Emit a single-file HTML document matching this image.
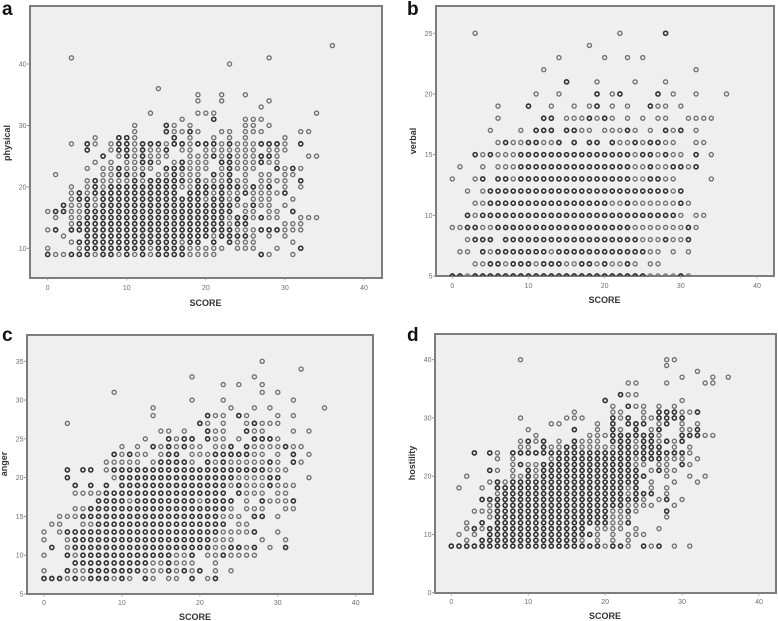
<!DOCTYPE html>
<html>
<head>
<meta charset="utf-8">
<style>
html,body{margin:0;padding:0;background:#fff;width:778px;height:621px;overflow:hidden}
svg{display:block}
text{font-family:"Liberation Sans",sans-serif}
.ttl{font-size:9px;font-weight:bold;fill:#333}
.ttl{text-anchor:middle}
.ltr{font-size:19px;font-weight:bold;fill:#111}
.frame{fill:#efefef;stroke:#7d7d7d;stroke-width:2}
.tick{font-size:7px;fill:#6e6e6e}
</style>
</head>
<body>
<svg id="fig" width="778" height="621" viewBox="0 0 778 621" xmlns="http://www.w3.org/2000/svg">
<defs>
<filter id="soft" x="-2%" y="-2%" width="104%" height="104%"><feGaussianBlur stdDeviation="0.35"/></filter>
<clipPath id="clip-a"><rect x="30" y="6" width="352" height="272"/></clipPath>
<clipPath id="clip-b"><rect x="436" y="6" width="338" height="270"/></clipPath>
<clipPath id="clip-c"><rect x="27" y="335" width="346" height="259"/></clipPath>
<clipPath id="clip-d"><rect x="435" y="334" width="341" height="259"/></clipPath>
</defs>
<g id="panel-a">
<rect class="frame" x="30" y="6" width="352" height="272"/>
<text class="ltr" x="2" y="15">a</text>
<text class="ttl" x="205.5" y="306">SCORE</text>
<text class="ttl" transform="translate(10,143) rotate(-90)">physical</text>
</g>
<g id="panel-b">
<rect class="frame" x="436" y="6" width="338" height="270"/>
<text class="ltr" x="407" y="15">b</text>
<text class="ttl" x="604.5" y="303">SCORE</text>
<text class="ttl" transform="translate(416,141) rotate(-90)">verbal</text>
</g>
<g id="panel-c">
<rect class="frame" x="27" y="335" width="346" height="259"/>
<text class="ltr" x="2" y="341">c</text>
<text class="ttl" x="195" y="620">SCORE</text>
<text class="ttl" transform="translate(7,464) rotate(-90)">anger</text>
</g>
<g id="panel-d">
<rect class="frame" x="435" y="334" width="341" height="259"/>
<text class="ltr" x="407" y="341">d</text>
<text class="ttl" x="605" y="619">SCORE</text>
<text class="ttl" transform="translate(415,463) rotate(-90)">hostility</text>
</g>
</svg>
<script>
const xTickLabels = [0,10,20,30,40];
const aYTicks = [10,20,30,40];
const bYTicks = [5,10,15,20,25];
const cYTicks = [5,10,15,20,25,30,35];
const dYTicks = [0,10,20,30,40];

const aY = [43,41,40,36,35,34,33,32,31,30,29,28,27,26,25,24,23,22,21,20,19,18,17,16,15,14,13,12,11,10,9];
const aX = [
[36],[3,28],[23],[14],[19,22,25],[19,22,28],[27],[13,19,20,21,34],[17,21,25,26,27],
[11,15,16,18,25,26,28],
[11,15,16,17,18,19,22,23,25,26,27,32,33],
[6,9,10,11,16,18,21,23,25,30],
[3,5,6,8,9,10,11,12,13,14,15,16,17,18,19,20,21,22,23,24,25,26,27,28,29,30,32],
[5,8,9,10,11,12,13,14,15,17,18,20,21,22,23,24,25,26,28,29,30],
[7,9,10,11,12,13,14,15,18,19,20,21,22,23,24,25,26,27,28,29,33,34],
[6,8,10,11,12,13,14,16,17,18,19,20,22,23,24,25,26,27,28,29],
[5,7,8,9,10,11,12,13,15,16,17,18,19,20,22,23,24,25,26,29,30,31,32],
[1,7,8,9,10,11,12,14,15,16,17,18,19,21,22,23,25,27,28,30,31],
[5,6,7,8,9,10,11,12,13,14,15,16,17,18,19,20,21,22,23,24,25,27,28,29,30,32],
[3,5,6,7,8,9,10,11,12,13,14,15,16,17,18,19,20,21,22,23,24,25,26,27,28,30,32],
[3,4,5,6,7,8,9,10,11,12,13,14,15,16,18,19,20,21,22,23,24,25,26,27,28,29,30],
[3,4,5,6,7,8,9,10,11,12,13,14,15,16,17,18,19,20,21,22,23,24,26,27,28,31],
[2,3,4,5,6,7,8,9,10,11,12,13,14,15,16,17,18,19,20,21,22,23,24,25,26,27,28,30],
[0,1,2,3,4,5,6,7,8,9,10,11,12,13,14,15,16,17,18,19,20,21,22,23,25,26,28,29,31],
[1,3,4,5,6,7,8,9,10,11,12,13,14,15,16,17,18,19,20,21,22,23,24,25,26,27,28,29,32,33,34],
[3,4,5,6,7,8,9,10,11,12,13,14,15,16,17,18,19,20,21,22,23,24,25,30,31,32],
[0,1,3,4,5,6,7,8,9,10,11,12,13,14,15,16,17,18,19,20,21,22,23,24,25,26,27,28,29,30,31,32],
[2,5,6,7,8,9,10,11,12,13,14,15,16,17,18,19,20,21,22,23,24,25,26,28,30],
[3,4,5,6,7,8,9,10,11,12,13,14,15,16,17,18,19,21,23,24,25,26,31],
[0,4,5,6,7,8,9,10,11,12,13,14,15,16,17,18,19,20,21,22,24,25,26,29,32],
[0,1,2,3,4,5,6,7,8,9,10,11,12,13,14,15,16,17,18,19,20,21,27,28,31]
];
const aDense = [
[],[],[],[],[],[],[],[],[21],[15],[15,18],[9,10,16],
[5,9,10,12,13,14,16,17,19,20,21,23,27,28,29,32],
[5,9,10,12,15],[7,10,12,21,23,27,28],[12,13,17,22,23,27],[9,15,16,17,23,29,31],[9,10,12,16,21,23],
[6,11,13,14,15,16,17,19,23,32],
[6,8,9,10,11,12,13,14,15,16,19,20,21,22,23,24,26,28],
[4,6,7,8,9,10,11,12,13,14,15,16,18,19,20,22,25,30],
[4,5,7,8,9,10,11,12,13,14,15,16,17,18,19,21,22,24],
[2,5,7,8,9,10,11,12,13,14,15,16,17,18,19,20,21,22,23,26],
[1,2,5,6,7,8,9,10,11,12,13,14,15,16,17,18,19,20,21,22,23,31],
[5,6,7,8,9,10,11,12,13,14,15,16,17,18,19,20,21,22,24,25,27],
[4,5,6,7,8,9,10,11,12,13,14,15,16,17,18,19,20,21,22,24,25],
[1,3,4,5,6,7,8,9,10,11,12,13,14,15,16,17,18,19,20,21,22,23,27,28,29],
[5,6,7,8,9,10,11,12,13,14,15,16,17,18,19,20,22,23,24,25],
[4,5,6,7,8,9,10,11,12,13,14,15,16,18,19,21,23],
[5,6,7,8,9,10,11,12,14,15,16,17,32],
[0,3,4,5,7,8,10,12,14,15,16,17,27]
];

const bY = [25,24,23,22,21,20,19,18,17,16,15,14,13,12,11,10,9,8,7,6,5];
const bX = [
[3,22,28],[18],[14,20,23,25],[12,32],[15,19,24,28],
[11,14,19,21,22,27,29,32,36],
[6,10,13,16,18,19,21,23,26,27,28,30],
[6,12,13,15,16,17,18,19,20,21,23,25,27,28,31,32,33,34],
[5,9,11,12,13,15,16,17,18,20,21,22,23,24,26,28,29,30,32],
[6,7,8,9,10,11,12,13,14,16,18,19,21,22,23,24,25,26,27,28,29,32,33],
[3,4,5,6,7,8,9,10,11,12,13,14,15,16,17,18,19,20,21,22,23,24,25,26,27,28,29,30,32,34],
[1,4,6,7,8,9,10,11,12,13,14,15,16,17,18,19,20,21,22,23,24,25,26,27,28,29,30,31,32],
[0,3,4,6,7,8,9,10,11,12,13,14,15,16,17,18,19,20,21,22,23,24,25,26,27,28,29,34],
[2,4,5,6,7,8,9,10,11,12,13,14,15,16,17,18,19,20,21,22,23,24,25,26,27,28,29,30],
[3,4,5,6,7,8,9,10,11,12,13,14,15,16,17,18,19,20,21,22,23,24,25,26,27,28,29,30,31],
[2,3,4,5,6,7,8,9,10,11,12,13,14,15,16,17,18,19,20,21,22,23,24,25,26,27,28,29,30,32,33],
[0,1,2,3,4,5,6,7,8,9,10,11,12,13,14,15,16,17,18,19,20,21,22,23,24,25,26,27,28,29,30,31,32],
[2,3,4,5,7,8,9,10,11,12,13,14,15,16,17,18,19,20,21,22,23,24,25,26,27,28,29,30,31],
[1,2,4,5,6,7,8,9,10,11,12,13,14,15,16,17,18,19,20,21,22,23,24,25,26,27,29,31],
[3,4,5,6,7,8,9,10,11,12,13,14,15,16,17,18,19,20,21,22,23,24,26,27],
[0,1,2,3,4,5,6,7,8,9,10,11,12,13,14,15,16,17,18,19,20,21,22,23,24,25,26,27,28,29,30,31]
];
const bDense = [
[28],[],[],[],[15],[19,22,27],[10,19,26],[12,13,18,20],[11,12,13,15,16,23,28,30],
[7,10,11,14,16,18,19,21,24,26,27],
[3,5,9,10,11,12,13,14,15,16,17,18,19,20,21,22,23,25,26,28,32],
[9,10,11,12,13,14,15,16,17,18,19,20,21,22,23,26,29,30,32],
[4,6,7,9,10,11,12,13,14,15,16,17,18,19,20,21,22,23,26,27],
[5,6,7,8,9,10,11,12,13,14,15,16,17,18,19,20,21,22,23,24,25,26,27,28,30],
[5,6,7,8,9,10,11,12,13,14,15,16,17,18,19,20,23,30],
[2,4,5,6,7,8,9,10,11,12,13,14,15,16,17,18,19,20,21,22,23,24,25,26,27,28,29],
[2,3,6,7,8,9,10,11,12,13,14,15,16,17,18,19,20,21,22,23,31],
[3,4,5,7,8,9,10,11,12,13,14,15,16,17,18,19,20,21,22,23,24,28,31],
[4,6,7,8,9,10,11,12,14,15,16,17,18,19,20,21,22,23,24,25],
[5,6,8,9,10,12,13,14,17,18,20,23],
[0,1,3,4,5,6,7,8,9,10,11,12,13,14,15,16,17,18,19,20,21,22,23,24,25,30]
];

const cY = [35,34,33,32,31,30,29,28,27,26,25,24,23,22,21,20,19,18,17,16,15,14,13,12,11,10,9,8,7];
const cX = [
[28],[33],[19,27],[23,25,28],[9,28,30],[19,23,32],[14,24,27,29,36],[14,21,22,23,25,26,30,32],
[3,20,21,23,26,27,28,29,30],
[15,16,18,21,22,23,26,27,28,32,34],
[13,16,17,18,19,21,22,23,25,27,28,29,30],
[10,12,14,15,16,17,18,19,20,22,23,24,26,27,28,29,30,31,32,33],
[9,10,11,12,13,15,16,17,19,20,21,22,23,24,25,26,27,28,30,32,34],
[8,9,10,11,12,14,15,16,17,18,19,21,22,23,24,25,26,27,28,29,30,32,33],
[3,5,6,8,9,10,11,12,13,14,15,16,17,18,19,20,21,22,23,24,25,26,27,28,29,30,31],
[3,9,10,11,12,13,14,15,16,17,18,19,20,21,22,23,24,25,26,27,28,29,30,34],
[4,6,8,10,11,12,13,14,15,16,17,18,19,20,21,22,23,24,25,26,27,28,29,30,31,32],
[4,5,6,7,8,9,10,11,12,13,14,15,16,17,18,19,20,21,22,23,25,26,27,28,30,31],
[7,8,9,10,11,12,13,14,15,16,17,18,19,20,21,22,23,24,26,28,29,30,31,32],
[4,5,6,7,8,9,10,11,12,13,14,15,16,17,18,19,20,21,22,23,24,26,27,28,31,32],
[2,3,4,5,6,7,8,9,10,11,12,13,14,15,16,17,18,19,20,21,22,23,24,25,27,28,30],
[1,2,5,6,7,8,9,10,11,12,13,14,15,16,17,18,19,20,21,22,23,25,26],
[0,2,3,4,5,6,7,8,9,10,11,12,13,14,15,16,17,18,19,20,21,22,23,24,25,26,27,30],
[0,3,4,5,6,7,8,9,10,11,12,13,14,15,16,17,18,19,20,21,22,23,24,28,31],
[1,3,4,5,6,7,8,9,10,11,12,13,14,15,16,17,18,19,20,21,22,23,24,25,26,27,29,31],
[0,3,4,5,6,7,8,9,10,11,12,13,14,15,16,17,18,19,21,22,23,24,25,26,27],
[4,5,6,7,8,9,10,11,12,13,14,15,16,17,18,19,22],
[0,3,4,5,6,7,8,9,10,11,12,13,14,15,16,17,18,19,20,22,24],
[0,1,2,3,4,5,6,7,8,9,10,11,13,14,16,17,19,21,22]
];
const cDense = [
[],[],[],[],[],[],[],[21,25],[20,27],[21,26],[16,18,19,21,27,28,29],
[14,16,18,24,26,31],[9,11,16,17,22,23,24,25,26,32],[15,16,17,18,21,23,29,32],
[3,5,6,9,10,11,12,13,14,15,16,17,18,19,20,21,22,23,24,25,26,27,28],
[3,10,11,12,13,14,15,16,17,18,19,20,21,22,23,24,29,30],
[4,6,8,10,11,12,13,14,15,16,17,18,19,20,21,22,23,25,29],
[8,9,10,11,12,13,14,15,16,17,18,19,20,21,22,23,25],
[7,8,9,10,12,13,14,15,16,17,18,19,21,22,23,24,28,32],
[6,7,8,9,10,11,12,13,14,15,16,17,18,19,20,21,22,23],
[5,6,7,8,9,10,11,12,13,14,15,16,17,18,19,20,21,22,27,28],
[7,8,9,10,11,12,13,14,15,16,17,18,19,20,21,22,23],
[3,4,5,6,7,8,9,10,11,12,13,14,15,16,17,18,19,20,21,22,27],
[4,5,6,7,8,9,10,11,12,13,14,15,16,17,18,19,20,21],
[1,4,5,6,7,8,9,10,11,12,13,14,15,16,17,18,19,20,21,24,25,27,31],
[3,5,6,7,8,9,10,11,12,13,14,15,16,19,23],
[4,5,6,7,8,9,10,11,12,13,16],
[3,6,7,8,9,10,11,12,16,18,20],
[0,1,2,4,6,7,8,10,13,19,22]
];

const dY = [40,39,38,37,36,34,33,32,31,30,29,28,27,26,25,24,23,22,21,20,19,18,17,16,15,14,13,12,11,10,9,8];
const dX = [
[9,28,29],[28],[32],[30,34,36],[23,24,28,33,34],[22,23,24],[20,30],[21,23,24,25,27,29],
[16,21,22,25,27,28,29,30,31,32],
[9,15,16,17,21,22,23,25,26,27,28,29,30],
[13,14,19,21,23,24,25,27,28,30,32],
[10,16,19,21,22,24,26,27,30,31,32],
[11,18,19,20,21,22,23,24,25,26,27,30,31,32,33,34],
[9,10,11,12,14,16,17,18,19,21,22,23,24,25,26,27,28,29,30],
[9,10,12,13,14,15,16,17,18,19,20,21,22,23,24,25,26,27,29,31],
[3,5,6,8,9,10,11,12,13,14,15,16,17,18,19,20,21,22,23,24,25,26,27,28,29,30,31],
[6,8,13,14,15,16,17,18,19,20,21,22,23,24,25,26,27,28,29,30,32],
[8,9,10,11,12,13,14,15,16,17,18,19,20,21,22,23,24,25,27,28,30,31],
[5,6,8,10,11,12,13,14,15,16,17,18,19,20,21,22,23,24,26,27,28,29],
[2,8,9,10,11,12,13,14,15,16,17,18,19,20,21,22,23,24,25,28,31,33],
[5,6,7,8,9,10,11,12,13,14,15,16,17,18,19,20,21,22,23,24,26,29,32],
[1,4,6,7,8,9,10,11,12,13,14,15,16,17,18,19,20,21,22,23,24,26,28],
[6,7,8,9,10,11,12,13,14,15,16,17,18,19,20,21,22,23,24,25,26,28],
[4,5,6,7,8,9,10,11,12,13,14,15,16,17,18,19,20,21,22,23,24,25,27,28,30],
[5,6,7,8,9,10,11,12,13,14,15,16,17,18,19,20,21,22,23,24,25,26,29],
[3,4,5,6,7,8,9,10,11,12,13,14,15,16,17,18,19,20,21,22,23,24,28],
[5,6,7,8,9,10,11,12,13,14,15,16,17,18,19,20,21,22,23,28],
[2,4,6,7,8,9,10,11,12,13,14,15,16,17,18,19,20,21,22,23],
[2,3,4,5,6,7,8,9,10,11,12,13,14,15,16,17,19,20,21,22,24,27],
[1,3,5,6,7,8,9,10,11,12,13,14,15,16,17,18,19,21,23,24,25],
[2,4,5,6,7,8,9,10,11,12,13,14,15,16,17,19,21,23],
[0,1,2,3,4,5,6,7,8,9,10,11,12,13,14,15,16,17,18,19,20,21,22,23,25,26,27,29,31]
];
const dDense = [
[],[],[],[],[],[22],[20],[23],[27,28,29,32],[21,23,27,28,29,30],[21,23,24,25,28],[16,21,24,27,32],
[21,22,23,24,25,26,30,31,32],[10,12,16,21,22,23,25,26,28,30],[12,15,16,22,23,25,26,27],
[3,5,8,9,10,11,12,13,14,15,16,17,18,19,20,21,22,23,24,25,26,27,28,29,30],
[14,15,16,17,18,19,20,21,22,23,25,26,27],
[9,12,13,14,15,16,17,18,19,20,21,22,23,30],
[5,10,12,13,14,15,16,17,18,19,20,21,22,23,24,27],
[10,12,13,14,15,16,17,18,19,20,21,22,23,24,25],
[6,8,9,10,11,12,13,14,15,16,17,18,19,20,21,22,23,24],
[6,7,8,9,10,11,12,13,14,15,16,17,18,19,20,21,22,24],
[7,8,9,10,11,12,13,14,15,16,17,18,19,20,21,22,24,25,26],
[4,5,6,7,8,9,10,11,12,13,14,15,16,17,18,19,20,21,22,23,24,28],
[6,7,8,9,10,11,12,13,14,15,16,17,18,19,20,21,22],
[6,7,8,9,10,11,12,13,14,15,16,17,18,19,20,23,28],
[6,7,8,9,10,11,12,13,14,15,16,17,18,19,20],
[4,6,7,8,9,10,11,12,13,14,15,16,17,18,19,20,23],
[3,5,6,7,8,9,10,11,12,13,14,15,16,17],
[5,6,7,8,9,10,11,12,13,14,15,16,17,18],
[4,5,6,7,8,9,10,11,12,13,14,15,16],
[0,1,2,3,4,5,6,7,8,9,10,11,12,13,14,15,16,17,18,19,21,22,25,27]
];

const NS = 'http://www.w3.org/2000/svg';

function linearAxis(d0, d1, p0, p1) {
  return function (v) { return p0 + (v - d0) * (p1 - p0) / (d1 - d0); };
}

function drawPanel(id, ys, xs, dense, yTicks, layout) {
  const panel = document.getElementById('panel-' + id);
  const xScale = linearAxis(0, 40, layout.x0, layout.x40);
  const yScale = linearAxis(layout.yA, layout.yB, layout.pA, layout.pB);

  xTickLabels.forEach(function (t) {
    const line = document.createElementNS(NS, 'line');
    
    
    line.setAttribute('x1', xScale(t));
    line.setAttribute('x2', xScale(t));
    line.setAttribute('y1', layout.bottom);
    line.setAttribute('y2', layout.bottom + 2.5);
    line.setAttribute('stroke', '#999');
    line.setAttribute('stroke-width', '0.8');
    panel.appendChild(line);
    const label = document.createElementNS(NS, 'text');
    
    
    label.setAttribute('class', 'tick');
    label.setAttribute('text-anchor', 'middle');
    label.setAttribute('x', xScale(t));
    label.setAttribute('y', layout.xLabelY);
    label.textContent = t;
    panel.appendChild(label);
  });

  yTicks.forEach(function (t) {
    const line = document.createElementNS(NS, 'line');
    
    
    line.setAttribute('x1', layout.left - 3);
    line.setAttribute('x2', layout.left);
    line.setAttribute('y1', yScale(t));
    line.setAttribute('y2', yScale(t));
    line.setAttribute('stroke', '#888');
    line.setAttribute('stroke-width', '0.9');
    panel.appendChild(line);
    const label = document.createElementNS(NS, 'text');
    
    
    label.setAttribute('class', 'tick');
    label.setAttribute('text-anchor', 'end');
    label.setAttribute('x', layout.left - 3.5);
    label.setAttribute('y', yScale(t) + 2.5);
    label.textContent = t;
    panel.appendChild(label);
  });

  const marks = document.createElementNS(NS, 'g');
  
  
  marks.setAttribute('clip-path', 'url(#clip-' + id + ')');
  const inner = document.createElementNS(NS, 'g');
  inner.setAttribute('filter', 'url(#soft)');
  inner.setAttribute('fill', 'none');
  marks.appendChild(inner);

  ys.forEach(function (y, row) {
    xs[row].forEach(function (x) {
      const dot = document.createElementNS(NS, 'circle');
      
      
      dot.setAttribute('cx', xScale(x));
      dot.setAttribute('cy', yScale(y));
      dot.setAttribute('r', '2.05');
      dot.setAttribute('stroke', '#6f6f6f');
      dot.setAttribute('stroke-width', '1.35');
      inner.appendChild(dot);
    });
    dense[row].forEach(function (x) {
      const dot = document.createElementNS(NS, 'circle');
      
      
      dot.setAttribute('cx', xScale(x));
      dot.setAttribute('cy', yScale(y));
      dot.setAttribute('r', '2.05');
      dot.setAttribute('stroke', '#303030');
      dot.setAttribute('stroke-width', '1.55');
      inner.appendChild(dot);
    });
  });
  panel.appendChild(marks);
}

drawPanel('a', aY, aX, aDense, aYTicks, {x0:47.7, x40:364, yA:10, yB:40, pA:248.3, pB:64, bottom:278, left:30, xLabelY:290});
drawPanel('b', bY, bX, bDense, bYTicks, {x0:452.3, x40:757, yA:5, yB:25, pA:276, pB:33.3, bottom:276, left:436, xLabelY:288});
drawPanel('c', cY, cX, cDense, cYTicks, {x0:44, x40:355.7, yA:5, yB:35, pA:594, pB:361.3, bottom:594, left:27, xLabelY:605});
drawPanel('d', dY, dX, dDense, dYTicks, {x0:451.3, x40:759, yA:0, yB:40, pA:592.7, pB:359.7, bottom:593, left:435, xLabelY:604});
</script>
</body>
</html>
